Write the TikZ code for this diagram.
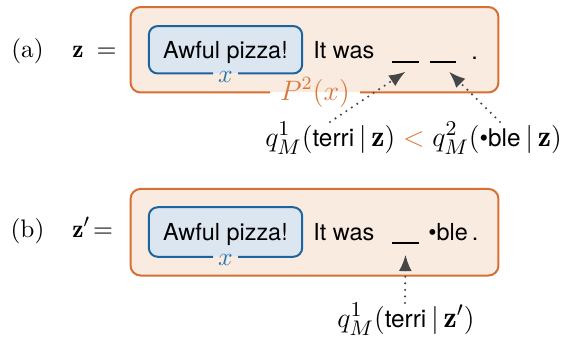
\documentclass[tikz,border=0pt]{standalone}
\usepackage{fontspec}
\setsansfont{TeX Gyre Heros}
\usetikzlibrary{arrows.meta,calc}
\definecolor{oline}{RGB}{214,112,50}
\definecolor{ofill}{RGB}{250,235,224}
\definecolor{bline}{RGB}{28,100,158}
\definecolor{bfill}{RGB}{220,230,241}
\definecolor{blab}{RGB}{40,118,178}
\definecolor{olab}{RGB}{218,120,60}
\definecolor{agray}{RGB}{70,70,70}
\def\upx{0.4268pt}
\newcommand\sfsm[1]{\text{\fontsize{10.4}{12}\selectfont\sffamily #1}}
\usepackage{amsmath}
\begin{document}
\begin{tikzpicture}[x=0.4268pt,y=-0.4268pt,
  obox/.style={fill=ofill,draw=none,rounded corners=4.3pt,inner sep=0pt},
  bbox/.style={fill=bfill,draw=none,rounded corners=3.8pt,inner sep=0pt},
  oborder/.style={draw=oline,line width=0.85pt,rounded corners=4.3pt},
  bborder/.style={draw=bline,line width=0.85pt,rounded corners=3.8pt},
  txt/.style={inner sep=0pt,font=\sffamily\fontsize{10}{12}\selectfont},
  lab/.style={inner sep=0pt,font=\fontsize{10.8}{13}\selectfont},
  blank/.style={inner sep=0pt},
  frm/.style={inner sep=0pt,font=\fontsize{12.7}{15}\selectfont},
  plab/.style={inner sep=0pt,font=\fontsize{11.8}{14}\selectfont},
  parr/.style={agray,line width=1pt,dash pattern=on 0pt off 2.8pt,line cap=round,
    -{Latex[length=7pt,width=5.5pt]}},
]
\useasboundingbox (0,0) rectangle (571,343);
% ---------- (a) ----------
\node[obox,minimum width=367*\upx,minimum height=84.5*\upx] (oa) at (314.5,49.75) {};
\draw[oborder] ($(oa.south)+(-44.5,0)$) -| (oa.north west) -| (oa.south east) -- ($(oa.south)+(45.5,0)$);
\node[bbox,minimum width=152.4*\upx,minimum height=46.5*\upx] (ba) at (225.5,49.75) {};
\draw[bborder] ($(ba.south)+(-12.5,0)$) -| (ba.north west) -| (ba.south east) -- ($(ba.south)+(12.5,0)$);
\node[lab,text=blab,font=\fontsize{11}{12}\selectfont] (xa) at (225.5,77) {$x$};
\node[plab,text=olab] (pa) at (315,92.5) {$P^2(x)$};
\node[lab,anchor=base] (la) at (27.5,57.5) {(a)};
\node[lab,anchor=base west] (za) at (72,57.5) {$\mathbf{z}\hspace{2.5pt}=$};
\node[txt,anchor=base] (aw1) at (225.5,58) {Awful pizza!};
\node[txt,anchor=base west] (iw1) at (313,58) {It was};
\node[blank] (b1) at (405.5,62) {\rule{11.5pt}{0.45pt}};
\node[blank] (b2) at (443,62) {\rule{11.5pt}{0.45pt}};
\node[txt,anchor=base] (p1) at (474.5,59) {.};
\node[frm,anchor=base] (fa) at (413.5,146) {$q^{1}_{M}(\sfsm{terri}\,|\,\mathbf{z})\mathrel{\textcolor{olab}{<}}q^{2}_{M}(\sfsm{•ble}\,|\,\mathbf{z})$};
\coordinate (t1) at (330,122);
\coordinate (t2) at (500,122);
\draw[parr] (t1) -- ($(b1.south)+(0,8)$);
\draw[parr] (t2) -- ($(b2.south)+(6,8)$);
% ---------- (b) ----------
\node[obox,minimum width=367*\upx,minimum height=85.7*\upx] (ob) at (314.5,232.2) {};
\draw[oborder] (ob.south) -| (ob.north west) -| (ob.south east) -- cycle;
\node[bbox,minimum width=152.4*\upx,minimum height=48.6*\upx] (bb) at (225.5,232) {};
\draw[bborder] ($(bb.south)+(-12.5,0)$) -| (bb.north west) -| (bb.south east) -- ($(bb.south)+(12.5,0)$);
\node[lab,text=blab,font=\fontsize{11}{12}\selectfont] (xb) at (225.5,259.5) {$x$};
\node[lab,anchor=base] (lb) at (27.5,237) {(b)};
\node[lab,anchor=base west] (zb) at (72,237) {$\mathbf{z}'\!=$};
\node[txt,anchor=base] (aw2) at (225.5,240) {Awful pizza!};
\node[txt,anchor=base west] (iw2) at (313,240) {It was};
\node[blank] (b3) at (405.5,243) {\rule{11.5pt}{0.45pt}};
\node[txt,anchor=base west] (bl) at (428,240) {•ble};
\node[txt,anchor=base] (p2) at (475,240) {.};
\node[frm,anchor=base] (fb) at (406,327) {$q^{1}_{M}(\sfsm{terri}\,|\,\mathbf{z}')$};
\coordinate (t3) at (405,303);
\draw[parr] (t3) -- ($(b3.south)+(0,10)$);
\end{tikzpicture}
\end{document}
